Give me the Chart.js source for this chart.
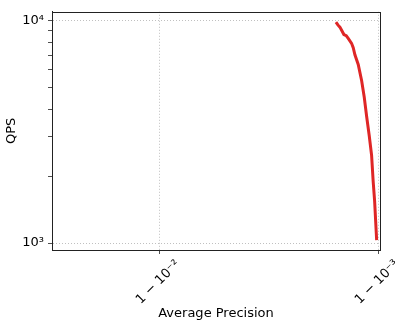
<!DOCTYPE html>
<html><head><meta charset="utf-8">
<script src="https://cdn.jsdelivr.net/npm/chart.js@4/dist/chart.umd.min.js"></script>
<style>html,body{margin:0;padding:0;background:#fff}#wrap{width:410px;height:327px}</style>
</head><body><div id="wrap"><canvas id="c" width="410" height="327"></canvas></div>
<script>
// Average precision values
const apValues = [0.998429, 0.998460, 0.998493, 0.998520, 0.998555, 0.998590, 0.998619, 0.998667, 0.998690, 0.998713, 0.998757, 0.998801, 0.998833, 0.998862, 0.998893, 0.998920, 0.998938, 0.998954, 0.998965, 0.998976];
// Queries per second
const qpsValues = [9830, 9560, 9346, 9050, 8654, 8550, 8313, 7901, 7550, 7022, 6346, 5362, 4535, 3717, 3038, 2482, 1889, 1544, 1262, 1031];
// x ticks: exponent k in 1 - 10^-k
const xTickExponents = [2, 3];
const xTickLabels = ['1 − 10⁻²', '1 − 10⁻³'];
// y ticks (log scale)
const yMajorTicks = [1000, 10000];
const yMajorLabels = ['10³', '10⁴'];
const yMinorTicks = [2000, 3000, 4000, 5000, 6000, 7000, 8000, 9000];

const toT = ap => -Math.log10(1 - ap);
const points = apValues.map((ap, i) => ({x: toT(ap), y: qpsValues[i]}));

const frame = {
  id: 'frame',
  afterDraw(chart) {
    const {ctx, chartArea: a} = chart;
    ctx.save();
    ctx.strokeStyle = '#222';
    ctx.lineWidth = 1;
    ctx.strokeRect(Math.round(a.left) + 0.5, Math.round(a.top) + 0.5, Math.round(a.right - a.left), Math.round(a.bottom - a.top));
    ctx.restore();
  }
};

const font = {family: 'DejaVu Sans', size: 13};

new Chart(document.getElementById('c'), {
  type: 'line',
  data: {datasets: [{
    data: points,
    borderColor: '#df2626',
    borderWidth: 3,
    pointRadius: 0,
    tension: 0,
    fill: false
  }]},
  options: {
    responsive: false,
    animation: false,
    layout: {padding: {top: 6, right: 30, left: 0, bottom: 0}},
    plugins: {legend: {display: false}, tooltip: {enabled: false}},
    scales: {
      x: {
        type: 'linear',
        min: 1.507, max: 3.005,
        afterBuildTicks: s => { s.ticks = xTickExponents.map(v => ({value: v})); },
        afterFit: s => { s.height = 77; },
        ticks: {
          autoSkip: false, minRotation: 45, maxRotation: 45,
          color: '#000', font,
          padding: 3, labelOffset: 18,
          callback: (v) => { const i = xTickExponents.indexOf(v); return i >= 0 ? xTickLabels[i] : ''; }
        },
        grid: {color: '#b0b0b0', lineWidth: 0.8, tickColor: '#222', tickLength: 4, drawTicks: true},
        border: {display: true, color: '#222', width: 1, dash: [1, 2]},
        title: {display: true, text: 'Average Precision', color: '#000', font, padding: {top: 0, bottom: 6}}
      },
      y: {
        type: 'logarithmic',
        min: 931, max: 10950,
        afterBuildTicks: s => { s.ticks = [...yMajorTicks, ...yMinorTicks].sort((a, b) => a - b).map(v => ({value: v})); },
        afterFit: s => { s.width = 52; },
        ticks: {
          autoSkip: false, color: '#000', font, padding: 4,
          callback: (v) => { const i = yMajorTicks.indexOf(v); return i >= 0 ? yMajorLabels[i] : ''; }
        },
        grid: {
          color: c => (c.tick && yMajorTicks.includes(c.tick.value)) ? '#b0b0b0' : 'rgba(0,0,0,0)',
          lineWidth: 0.8, tickColor: '#222', tickLength: 4
        },
        border: {display: true, color: '#222', width: 1, dash: [1, 2]},
        title: {display: true, text: 'QPS', color: '#000', font, padding: {top: 4, bottom: 0}}
      }
    }
  },
  plugins: [frame]
});
</script></body></html>
